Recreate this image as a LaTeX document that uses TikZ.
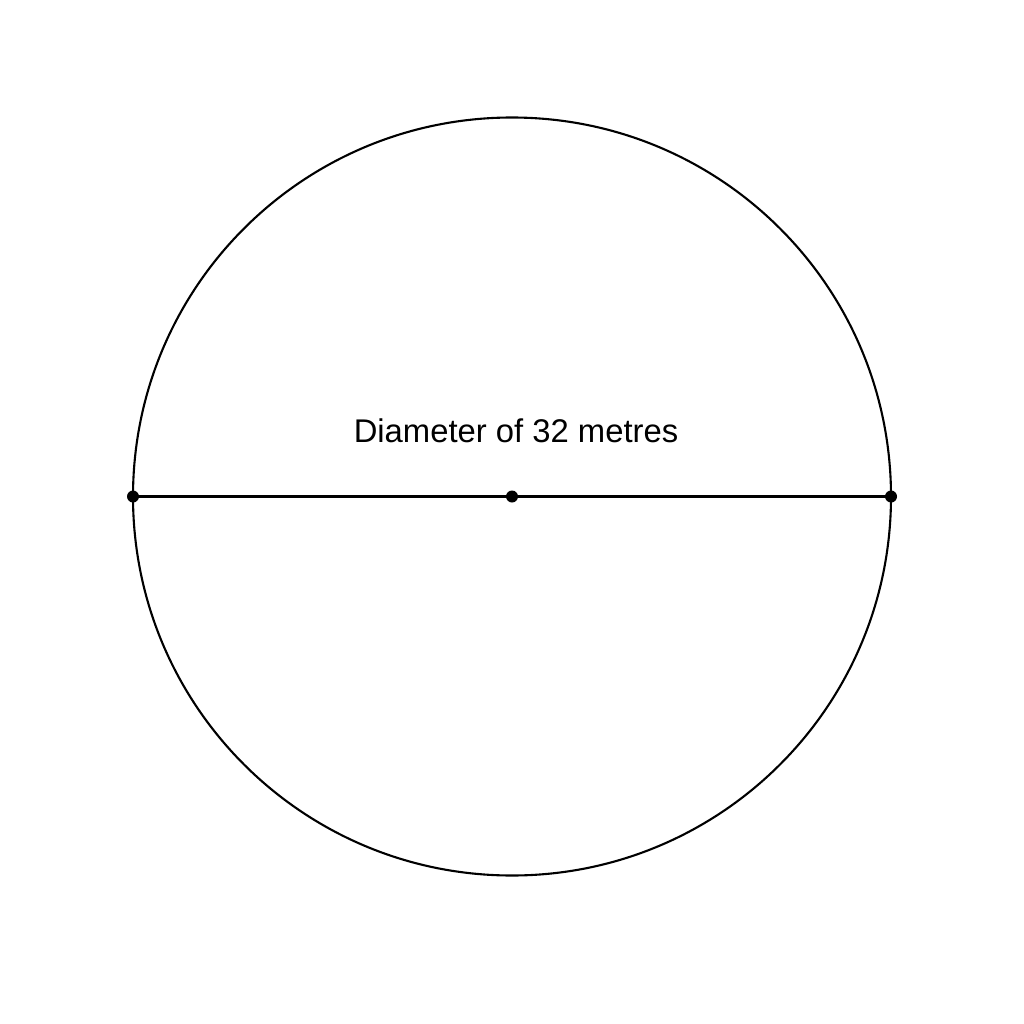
\documentclass[tikz,border=0pt]{standalone}
\usepackage{fontspec}
\setmainfont{Liberation Sans}
\begin{document}
\begin{tikzpicture}[x=1pt,y=-1pt,
  dotpt/.style={circle,fill=black,inner sep=0pt,minimum size=12pt},
  lbl/.style={font=\fontsize{32.8}{38}\selectfont,inner sep=0pt,anchor=base}]
\useasboundingbox[fill=white] (0,0) rectangle (1024,1024);
\draw[line width=2.1pt] (512,496.5) circle[radius=379];
\node[dotpt] (L) at (133,496.5) {};
\node[dotpt] (C) at (512,496.5) {};
\node[dotpt] (R) at (891,496.5) {};
\draw[line width=2.1pt] (L.center) -- (C.center) -- (R.center);
\node[lbl] (t) at (516,442) {Diameter of 32 metres};
\end{tikzpicture}
\end{document}
